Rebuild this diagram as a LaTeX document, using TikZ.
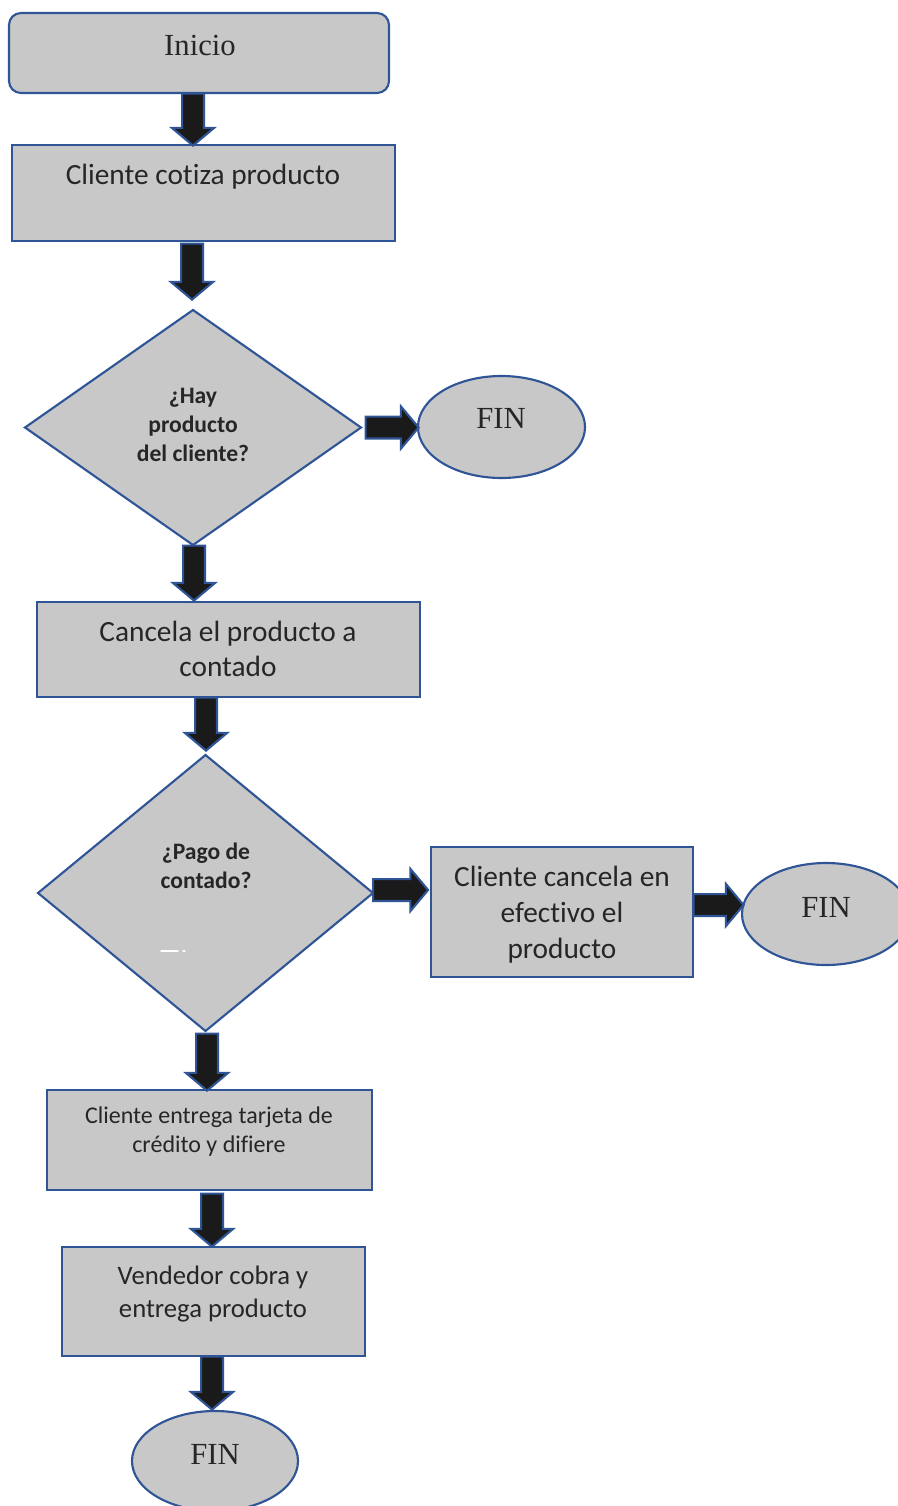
\documentclass[tikz,border=0pt]{standalone}
\usepackage{fontspec}
\setmainfont{Liberation Serif}
\newfontfamily\flowsans[Ligatures=NoCommon]{Carlito}
\usetikzlibrary{shapes.geometric,shapes.arrows}
\definecolor{boxfill}{HTML}{C8C8C8}
\definecolor{edge}{HTML}{2F5597}
\definecolor{arrowfill}{HTML}{1A1A1A}
\definecolor{ink}{HTML}{262626}

\begin{document}
\begin{tikzpicture}[x=0.75pt,y=-0.75pt,
  dims/.style 2 args={minimum width=#1*0.75pt, minimum height=#2*0.75pt},
  shapebase/.style={draw=edge, fill=boxfill, line width=1.6pt, inner sep=0pt, outer sep=0pt},
  procbox/.style={shapebase, rectangle},
  decision/.style={shapebase, diamond},
  terminal/.style={shapebase, ellipse},
  serifLabel/.style={text=ink, inner sep=0pt, font=\fontsize{23pt}{27pt}\selectfont},
  sansLabel/.style 2 args={text=ink, inner sep=0pt, align=center, font=\flowsans\fontsize{#1}{#2}\selectfont},
  smallLabel/.style={text=ink, inner sep=0pt, align=center, font=\flowsans\fontsize{18pt}{21.75pt}\selectfont},
  boldLabel/.style={text=ink, inner sep=0pt, align=center, font=\flowsans\bfseries\fontsize{17.7pt}{21.75pt}\selectfont},
  blockarrow/.style={single arrow, draw=edge, fill=arrowfill, line width=1.6pt,
    inner xsep=0pt, inner ysep=7.4pt, outer sep=0pt, text height=0pt, text depth=0pt,
    minimum width=30.5pt, single arrow head extend=7.6pt,
    single arrow tip angle=100, minimum height=#1*0.75pt},
  downarrow/.style={blockarrow=#1, rotate=-90},
  rightarrow/.style={blockarrow=#1}
]
\clip (0,0) rectangle (898,1506);
\useasboundingbox (0,0) rectangle (898,1506);

% ---- shapes ----
\node[procbox, rounded corners=9pt, dims={380}{80}] (inicio) at (199,53) {};
\node[procbox, dims={383}{96}] (cotiza) at (203.5,193) {};
\node[decision, dims={336}{235}] (hay) at (193,427.5) {};
\node[terminal, dims={167}{102}] (fin1) at (501.5,427) {};
\node[procbox, dims={383}{95}] (cancela) at (228.5,649.5) {};
\node[decision, dims={335}{276}] (pago) at (205.5,893) {};
\node[procbox, dims={262}{130}] (efectivo) at (562,912) {};
\node[terminal, dims={168}{102}] (fin2) at (826,914) {};
\node[procbox, dims={325}{100}] (tarjeta) at (209.5,1140) {};
\node[procbox, dims={303}{109}] (vendedor) at (213.5,1301.5) {};
\node[terminal, dims={166}{100}] (fin3) at (215,1461) {};

% ---- texts ----
\node[serifLabel] (tinicio) at (200,45) {Inicio};
\node[sansLabel={22pt}{26.25pt}] (tcotiza) at (203,177) {Cliente cotiza producto};
\node[boldLabel] (thay) at (193,425) {¿Hay\\producto\\del cliente?};
\node[serifLabel] (tfin1) at (501,418) {FIN};
\node[sansLabel={22pt}{26.25pt}] (tcancela) at (228,649) {Cancela el producto a\\contado};
\node[boldLabel] (tpago) at (206,865.5) {¿Pago de\\contado?};
\node[sansLabel={22pt}{27pt}] (tefectivo) at (562,915) {Cliente cancela en\\efectivo el\\producto};
\node[serifLabel] (tfin2) at (826,907) {FIN};
\node[smallLabel] (ttarjeta) at (209,1132) {Cliente entrega tarjeta de\\crédito y difiere};
\node[sansLabel={20pt}{24.75pt}] (tvendedor) at (213,1294) {Vendedor cobra y\\entrega producto};
\node[serifLabel] (tfin3) at (215,1454) {FIN};

% stray white tick inside the second decision
\draw[white, line width=1pt, line cap=round] (161,951) -- (178,951) (183,951) -- (185,951);

% ---- block arrows between the steps ----
\node[downarrow=52] (a1) at (193,115) {};
\node[downarrow=56] (a2) at (192,267) {};
\node[rightarrow=53] (a3) at (387.5,427.5) {};
\node[downarrow=55] (a4) at (194,568.5) {};
\node[downarrow=53] (a5) at (206,719.5) {};
\node[rightarrow=55] (a6) at (396,890) {};
\node[rightarrow=50] (a7) at (714,905) {};
\node[downarrow=57] (a8) at (207,1057.5) {};
\node[downarrow=53] (a9) at (212,1215.5) {};
\node[downarrow=53] (a10) at (212,1378.5) {};
\end{tikzpicture}
\end{document}
